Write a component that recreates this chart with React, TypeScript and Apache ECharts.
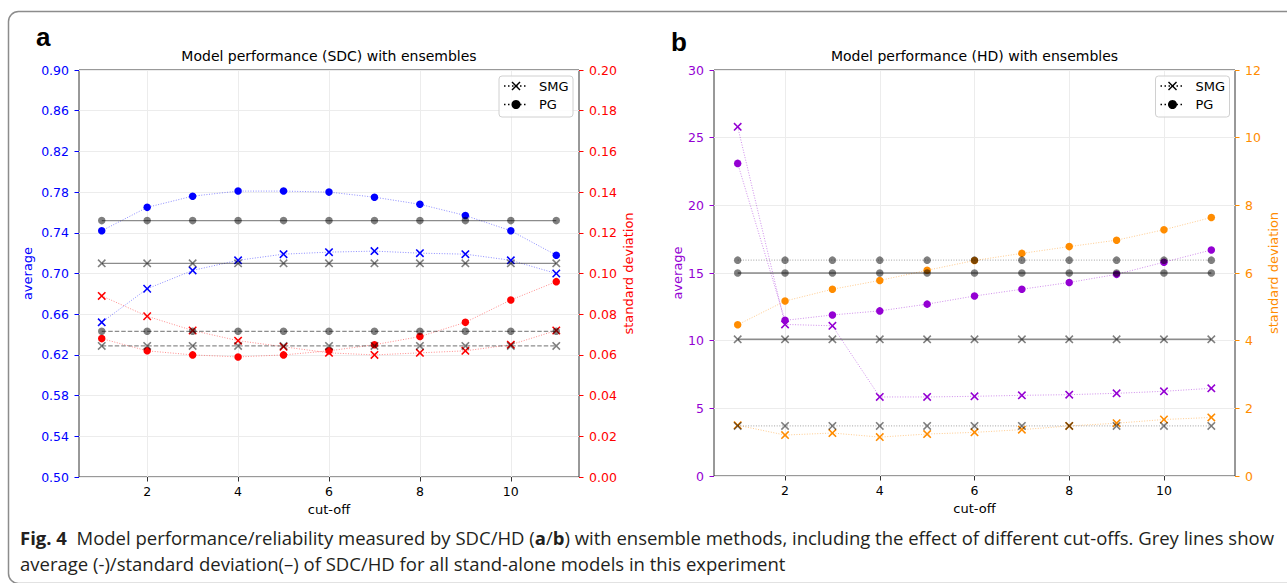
import React, { useEffect, useRef } from 'react';
import * as echarts from 'echarts';

// ---------- data ----------
const cutoffs = [1, 2, 3, 4, 5, 6, 7, 8, 9, 10, 11];
const xTicks = [2, 4, 6, 8, 10];

// panel a (SDC)
const sdcPgAvg = [0.742, 0.765, 0.776, 0.781, 0.781, 0.780, 0.775, 0.768, 0.757, 0.742, 0.718];
const sdcSmgAvg = [0.652, 0.685, 0.703, 0.713, 0.719, 0.721, 0.722, 0.720, 0.719, 0.713, 0.700];
const sdcSmgStd = [0.089, 0.079, 0.072, 0.067, 0.064, 0.061, 0.060, 0.061, 0.062, 0.065, 0.072];
const sdcPgStd = [0.068, 0.062, 0.060, 0.059, 0.060, 0.062, 0.065, 0.069, 0.076, 0.087, 0.096];
const SDC_ALONE_PG_AVG = 0.752;
const SDC_ALONE_SMG_AVG = 0.710;
const SDC_ALONE_PG_STD = 0.0716;
const SDC_ALONE_SMG_STD = 0.0644;
const sdcAvgTicks = [0.5, 0.54, 0.58, 0.62, 0.66, 0.7, 0.74, 0.78, 0.82, 0.86, 0.9];

// panel b (HD)
const hdPgAvg = [23.1, 11.5, 11.9, 12.2, 12.7, 13.3, 13.8, 14.3, 14.9, 15.8, 16.7];
const hdSmgAvg = [25.8, 11.2, 11.1, 5.84, 5.84, 5.89, 5.96, 6.01, 6.11, 6.26, 6.48];
const hdPgStd = [4.47, 5.17, 5.52, 5.78, 6.08, 6.37, 6.58, 6.78, 6.97, 7.28, 7.64];
const hdSmgStd = [1.50, 1.21, 1.27, 1.15, 1.24, 1.29, 1.37, 1.48, 1.56, 1.67, 1.73];
const HD_ALONE_PG_AVG = 15.0;
const HD_ALONE_SMG_AVG = 10.1;
const HD_ALONE_PG_STD = 6.38;
const HD_ALONE_SMG_STD = 1.48;

const captionBold = 'Fig. 4';
const captionLine1 = 'Model performance/reliability measured by SDC/HD (';
const captionLine1b = ') with ensemble methods, including the effect of different cut-offs. Grey lines show';
const captionLine2 = 'average (-)/standard deviation(\u2013) of SDC/HD for all stand-alone models in this experiment';

// ---------- style ----------
const BLUE = '#0000ff';
const RED = '#ff0000';
const PURPLE = '#9400d3';
const ORANGE = '#ff8c00';
const MPL = 'DejaVu Sans';
const CAP = 'Open Sans';
const X_PATH = 'path://M1.3,0L5,3.7L8.7,0L10,1.3L6.3,5L10,8.7L8.7,10L5,6.3L1.3,10L0,8.7L3.7,5L0,1.3Z';

const pairs = (vals: number[]) => cutoffs.map((c, i) => [c, vals[i]]);
const constant = (v: number) => cutoffs.map((c) => [c, v]);

function colored(name: string, xi: number, yi: number, vals: number[], color: string, marker: 'o' | 'x') {
  return {
    name,
    type: 'line',
    xAxisIndex: xi,
    yAxisIndex: yi,
    data: pairs(vals),
    symbol: marker === 'o' ? 'circle' : X_PATH,
    symbolSize: marker === 'o' ? 7.5 : 8.5,
    itemStyle: { color },
    lineStyle: { color, width: 1, type: [1, 1.6], opacity: 0.45 },
    z: 2,
    silent: true,
  };
}

function grey(name: string, xi: number, yi: number, v: number, marker: 'o' | 'x', dash: 'solid' | 'dashed' | 'dotted') {
  const type = dash === 'solid' ? 'solid' : dash === 'dashed' ? [4.5, 2] : [1, 1.6];
  return {
    name,
    type: 'line',
    xAxisIndex: xi,
    yAxisIndex: yi,
    data: constant(v),
    symbol: marker === 'o' ? 'circle' : X_PATH,
    symbolSize: marker === 'o' ? 7.5 : 8.5,
    itemStyle: { color: 'rgba(0,0,0,0.5)' },
    lineStyle: { color: dash === 'dotted' ? 'rgba(0,0,0,0.3)' : 'rgba(0,0,0,0.45)', width: dash === 'solid' ? 1.4 : 1.2, type },
    z: 3,
    silent: true,
  };
}

function xAxis(gridIndex: number) {
  return {
    type: 'value',
    gridIndex,
    min: 0.5,
    max: 11.5,
    name: 'cut-off',
    nameLocation: 'middle',
    nameGap: 25,
    nameTextStyle: { fontFamily: MPL, fontSize: 13, color: '#000' },
    axisLine: { show: false },
    axisTick: { show: true, length: 4.5, customValues: xTicks, lineStyle: { color: '#333' } },
    axisLabel: { customValues: xTicks, margin: 8, fontFamily: MPL, fontSize: 12.5, color: '#000' },
    splitLine: { show: true, lineStyle: { color: '#ececec', width: 1 } },
  };
}

function yAxis(gridIndex: number, position: 'left' | 'right', min: number, max: number, color: string, name: string, nameGap: number, opts: any) {
  return {
    type: 'value',
    gridIndex,
    position,
    min,
    max,
    name,
    nameLocation: 'middle',
    nameGap,
    nameTextStyle: { fontFamily: MPL, fontSize: 13, color },
    axisLine: { show: false },
    axisTick: { show: true, length: 4.5, lineStyle: { color }, ...(opts.tick || {}) },
    axisLabel: { margin: 10, fontFamily: MPL, fontSize: 12.5, color, ...(opts.label || {}) },
    splitLine: { show: position === 'left', lineStyle: { color: '#ececec', width: 1 } },
    ...(opts.extra || {}),
  };
}

function legendGraphics(bx: number) {
  const lx0 = bx + 5;
  const lx1 = bx + 29;
  const mx = bx + 17;
  const tx = bx + 40;
  const y1 = 86;
  const y2 = 104.5;
  const lineStyle = { stroke: '#000', lineWidth: 1.5, lineDash: [1.5, 2.5] };
  return [
    { type: 'rect', z: 100, shape: { x: bx, y: 76, width: 74, height: 41, r: 3 }, style: { fill: 'rgba(255,255,255,0.85)', stroke: '#d0d0d0', lineWidth: 1 } },
    { type: 'line', z: 101, shape: { x1: lx0, y1, x2: lx1, y2: y1 }, style: lineStyle },
    { type: 'line', z: 101, shape: { x1: lx0, y1: y2, x2: lx1, y2 }, style: lineStyle },
    { type: 'line', z: 102, shape: { x1: mx - 4, y1: y1 - 4, x2: mx + 4, y2: y1 + 4 }, style: { stroke: '#000', lineWidth: 1.4 } },
    { type: 'line', z: 102, shape: { x1: mx - 4, y1: y1 + 4, x2: mx + 4, y2: y1 - 4 }, style: { stroke: '#000', lineWidth: 1.4 } },
    { type: 'circle', z: 102, shape: { cx: mx, cy: y2, r: 4.5 }, style: { fill: '#000' } },
    { type: 'text', z: 102, x: tx, y: y1, style: { text: 'SMG', fontFamily: MPL, fontSize: 13, fill: '#000', verticalAlign: 'middle' } },
    { type: 'text', z: 102, x: tx, y: y2, style: { text: 'PG', fontFamily: MPL, fontSize: 13, fill: '#000', verticalAlign: 'middle' } },
  ];
}

export default function App() {
  const ref = useRef<HTMLDivElement>(null);
  useEffect(() => {
    if (!ref.current) return;
    const chart = echarts.init(ref.current, undefined, { renderer: 'svg' });
    const option: any = {
      animation: false,
      backgroundColor: '#fff',
      grid: [
        { left: 79, top: 70, width: 500, height: 407, show: true, borderColor: '#333', borderWidth: 1, backgroundColor: 'transparent', containLabel: false, outerBoundsMode: 'none' },
        { left: 714, top: 70, width: 521, height: 406, show: true, borderColor: '#333', borderWidth: 1, backgroundColor: 'transparent', containLabel: false, outerBoundsMode: 'none' },
      ],
      xAxis: [xAxis(0), xAxis(1)],
      yAxis: [
        yAxis(0, 'left', 0.5, 0.9, BLUE, 'average', 45, {
          tick: { customValues: sdcAvgTicks },
          label: { customValues: sdcAvgTicks, formatter: (v: number) => v.toFixed(2) },
        }),
        yAxis(0, 'right', 0, 0.2, RED, 'standard deviation', 43, {
          extra: { interval: 0.02 },
          label: { formatter: (v: number) => v.toFixed(2) },
        }),
        yAxis(1, 'left', 0, 30, PURPLE, 'average', 30, { extra: { interval: 5 } }),
        yAxis(1, 'right', 0, 12, ORANGE, 'standard deviation', 32, { extra: { interval: 2 } }),
      ],
      series: [
        colored('SDC PG average', 0, 0, sdcPgAvg, BLUE, 'o'),
        colored('SDC SMG average', 0, 0, sdcSmgAvg, BLUE, 'x'),
        colored('SDC SMG std', 0, 1, sdcSmgStd, RED, 'x'),
        colored('SDC PG std', 0, 1, sdcPgStd, RED, 'o'),
        grey('SDC stand-alone PG average', 0, 0, SDC_ALONE_PG_AVG, 'o', 'solid'),
        grey('SDC stand-alone SMG average', 0, 0, SDC_ALONE_SMG_AVG, 'x', 'solid'),
        grey('SDC stand-alone PG std', 0, 1, SDC_ALONE_PG_STD, 'o', 'dashed'),
        grey('SDC stand-alone SMG std', 0, 1, SDC_ALONE_SMG_STD, 'x', 'dashed'),

        colored('HD PG average', 1, 2, hdPgAvg, PURPLE, 'o'),
        colored('HD SMG average', 1, 2, hdSmgAvg, PURPLE, 'x'),
        colored('HD PG std', 1, 3, hdPgStd, ORANGE, 'o'),
        colored('HD SMG std', 1, 3, hdSmgStd, ORANGE, 'x'),
        grey('HD stand-alone PG average', 1, 2, HD_ALONE_PG_AVG, 'o', 'solid'),
        grey('HD stand-alone SMG average', 1, 2, HD_ALONE_SMG_AVG, 'x', 'solid'),
        grey('HD stand-alone PG std', 1, 3, HD_ALONE_PG_STD, 'o', 'dotted'),
        grey('HD stand-alone SMG std', 1, 3, HD_ALONE_SMG_STD, 'x', 'dotted'),
      ],
      graphic: [
        { type: 'rect', z: -1, shape: { x: 8.5, y: 11.5, width: 1300, height: 572, r: 10 }, style: { fill: 'none', stroke: '#8c8c8c', lineWidth: 1.5 } },
        { type: 'text', x: 36, y: 24, style: { text: 'a', fontFamily: 'Liberation Sans', fontWeight: 'bold', fontSize: 26, fill: '#000', verticalAlign: 'top', lineHeight: 26 } },
        { type: 'text', x: 671, y: 29, style: { text: 'b', fontFamily: 'Liberation Sans', fontWeight: 'bold', fontSize: 26, fill: '#000', verticalAlign: 'top', lineHeight: 26 } },
        { type: 'text', x: 329, y: 56, style: { text: 'Model performance (SDC) with ensembles', fontFamily: MPL, fontSize: 14, fill: '#000', align: 'center', verticalAlign: 'middle' } },
        { type: 'text', x: 974.5, y: 56, style: { text: 'Model performance (HD) with ensembles', fontFamily: MPL, fontSize: 14, fill: '#000', align: 'center', verticalAlign: 'middle' } },
        ...legendGraphics(499),
        ...legendGraphics(1155.5),
        {
          type: 'text', x: 20, y: 537,
          style: {
            text: `{b|${captionBold}}  ${captionLine1}{b|a}/{b|b}${captionLine1b}`,
            fontFamily: CAP, fontSize: 18.5, fill: '#231f20', verticalAlign: 'middle',
            rich: { b: { fontFamily: CAP, fontWeight: 'bold', fontSize: 18.5, fill: '#231f20' } },
          },
        },
        { type: 'text', x: 20, y: 563, style: { text: captionLine2, fontFamily: CAP, fontSize: 18.5, fill: '#231f20', verticalAlign: 'middle' } },
      ],
    };
    chart.setOption(option);
    return () => chart.dispose();
  }, []);
  return <div ref={ref} style={{ position: 'fixed', left: 0, top: 0, width: 1287, height: 583 }} />;
}
